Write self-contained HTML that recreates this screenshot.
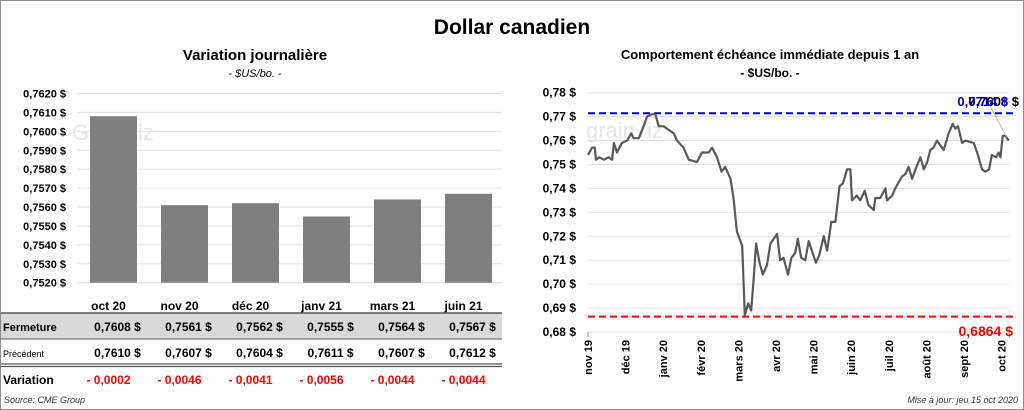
<!DOCTYPE html>
<html><head><meta charset="utf-8"><style>
body{margin:0;background:#fff;}
svg{display:block;font-family:"Liberation Sans",Arial,sans-serif;}
</style></head><body>
<svg id="c" width="1024" height="410" viewBox="0 0 1024 410">
<rect x="0.5" y="0.5" width="1023" height="409" fill="#fff" stroke="#8c8c8c"/>
<text x="512" y="34" text-anchor="middle" font-size="21" font-weight="bold">Dollar canadien</text>
<text x="255" y="60" text-anchor="middle" font-size="15" font-weight="bold">Variation  journalière</text>
<text x="255" y="77" text-anchor="middle" font-size="11" font-style="italic">- $US/bo. -</text>
<text x="770" y="59" text-anchor="middle" font-size="13" font-weight="bold">Comportement échéance immédiate depuis 1 an</text>
<text x="770" y="77" text-anchor="middle" font-size="12" font-weight="bold">- $US/bo. -</text>
<g id="left"></g><g id="right"></g>
<text x="4" y="403" font-size="9" font-style="italic" fill="#333">Source: CME Group</text>
<text x="1018" y="403" text-anchor="end" font-size="9" font-style="italic" fill="#333">Mise à jour: jeu 15 oct 2020</text>
</svg>
<script>
const categories=["oct 20","nov 20","déc 20","janv 21","mars 21","juin 21"];
const closeVals=[0.7608,0.7561,0.7562,0.7555,0.7564,0.7567];
const prevVals=[0.7610,0.7607,0.7604,0.7611,0.7607,0.7612];
const variationVals=[-0.0002,-0.0046,-0.0041,-0.0056,-0.0044,-0.0044];
const barTicks=[0.7520,0.7530,0.7540,0.7550,0.7560,0.7570,0.7580,0.7590,0.7600,0.7610,0.7620];
const lineMonths=[0.00,0.11,0.18,0.21,0.30,0.42,0.55,0.64,0.69,0.77,0.90,1.04,1.15,1.21,1.35,1.48,1.57,1.70,1.79,1.88,2.01,2.28,2.37,2.54,2.68,2.90,3.03,3.21,3.30,3.43,3.55,3.65,3.79,3.87,3.96,4.10,4.17,4.26,4.34,4.41,4.47,4.56,4.65,4.76,4.85,5.03,5.11,5.20,5.32,5.41,5.51,5.58,5.67,5.78,5.87,6.06,6.15,6.27,6.36,6.47,6.58,6.69,6.78,6.89,6.98,7.02,7.15,7.24,7.36,7.46,7.60,7.64,7.77,7.91,7.95,8.09,8.17,8.35,8.44,8.53,8.62,8.71,8.84,8.93,9.02,9.10,9.19,9.28,9.37,9.46,9.59,9.70,9.77,9.84,9.95,10.03,10.26,10.37,10.48,10.57,10.67,10.74,10.85,10.92,10.97,11.03,11.10,11.19];
const lineVals=[0.754,0.757,0.757,0.752,0.753,0.752,0.753,0.752,0.759,0.755,0.759,0.760,0.763,0.761,0.761,0.766,0.770,0.771,0.771,0.766,0.766,0.763,0.760,0.757,0.752,0.751,0.755,0.755,0.757,0.753,0.747,0.749,0.744,0.736,0.722,0.716,0.687,0.692,0.689,0.703,0.717,0.709,0.704,0.708,0.717,0.721,0.710,0.711,0.704,0.711,0.713,0.719,0.711,0.710,0.718,0.709,0.712,0.720,0.714,0.726,0.726,0.741,0.742,0.748,0.748,0.735,0.737,0.735,0.739,0.733,0.731,0.736,0.736,0.740,0.735,0.737,0.740,0.745,0.746,0.749,0.744,0.748,0.753,0.748,0.751,0.756,0.757,0.760,0.758,0.756,0.763,0.767,0.765,0.766,0.759,0.760,0.759,0.754,0.748,0.747,0.748,0.754,0.753,0.755,0.753,0.762,0.762,0.760];
const monthLabels=["nov 19","déc 19","janv 20","févr 20","mars 20","avr 20","mai 20","juin 20","juil 20","août 20","sept 20","oct 20"];
const lineTicks=[0.68,0.69,0.70,0.71,0.72,0.73,0.74,0.75,0.76,0.77,0.78];
const highVal=0.7714, lowVal=0.6864, lastVal=0.7608;

const NS="http://www.w3.org/2000/svg";
function mk(parent,tag,attrs,txt){const e=document.createElementNS(NS,tag);for(const k in attrs)e.setAttribute(k,attrs[k]);if(txt!==undefined)e.textContent=txt;parent.appendChild(e);return e;}
const fmt4=v=>v.toFixed(4).replace('.',',');
const fmt2=v=>v.toFixed(2).replace('.',',');

// LEFT BAR CHART
const L=document.getElementById('left');
const bg=mk(L,'rect',{x:1,y:313,width:501,height:26,fill:'#d9d9d9'});


const by0=282.7,by1=93.5,bmin=0.7520,bmax=0.7620;
const yB=v=>by0-(v-bmin)/(bmax-bmin)*(by0-by1);
const bx0=77,bw=71;
const xB=i=>bx0+bw*(i+0.5)+1;
barTicks.forEach(t=>{
 const g=mk(L,'line',{x1:77,x2:502,y1:yB(t),y2:yB(t),stroke:'#e0e0e0','stroke-width':1});
 
 
 const tx=mk(L,'text',{x:66,y:yB(t)+4,'text-anchor':'end','font-size':11,'font-weight':'bold'},fmt4(t)+' $');
 
 
});
const wm=mk(L,'text',{x:72,y:140,'font-size':22,fill:'#e6e6e6'},'Grain√iz');


categories.forEach((c,i)=>{
 const r=mk(L,'rect',{x:xB(i)-23.5,y:yB(closeVals[i]),width:47,height:by0-yB(closeVals[i]),fill:'#7f7f7f'});
 
 
 const t=mk(L,'text',{x:xB(i)-5,y:310,'text-anchor':'middle','font-size':12,'font-weight':'bold'},c);
 
 
 const f=mk(L,'text',{x:xB(i)+4,y:331,'text-anchor':'middle','font-size':12,'font-weight':'bold'},fmt4(closeVals[i])+'  $');
 
 
 const p=mk(L,'text',{x:xB(i)+4,y:357,'text-anchor':'middle','font-size':12,'font-weight':'bold'},fmt4(prevVals[i])+'  $');
 
 
 const v=mk(L,'text',{x:xB(i)-5,y:384,'text-anchor':'middle','font-size':12,'font-weight':'bold',fill:'#ff0000'},'- '+fmt4(Math.abs(variationVals[i])));
 
 
});
mk(L,'line',{x1:1,x2:502,y1:313,y2:313,stroke:'#555','stroke-width':1.5});
mk(L,'line',{x1:1,x2:502,y1:339,y2:339,stroke:'#555','stroke-width':1});
mk(L,'line',{x1:1,x2:502,y1:364,y2:364,stroke:'#555','stroke-width':1.3});
mk(L,'line',{x1:1,x2:502,y1:366.5,y2:366.5,stroke:'#555','stroke-width':1.3});
[['Fermeture',331,11,'bold'],['Précédent',357,9,'normal'],['Variation',384,12,'bold']].forEach(r=>{
 const t=mk(L,'text',{x:3,y:r[1],'font-size':r[2],'font-weight':r[3]},r[0]);
 
 
});

// RIGHT LINE CHART
const R=document.getElementById('right');
const ry0=332,ry1=92.7,rmin=0.68,rmax=0.78;
const yR=v=>ry0-(v-rmin)/(rmax-rmin)*(ry0-ry1);
const xR=m=>588+m*37.6;
lineTicks.forEach(t=>{
 const g=mk(R,'line',{x1:588,x2:1009,y1:yR(t),y2:yR(t),stroke:'#e0e0e0','stroke-width':1});
 
 
 const tx=mk(R,'text',{x:576,y:yR(t)+4,'text-anchor':'end','font-size':12,'font-weight':'bold'},fmt2(t)+' $');
 
 
});
const wm2=mk(R,'text',{x:586,y:138,'font-size':22,fill:'#e6e6e6'},'grain√iz');


mk(R,'line',{x1:588,x2:588,y1:332,y2:337,stroke:'#999'});
monthLabels.forEach((m,i)=>{
 const t=mk(R,'text',{transform:`translate(${xR(i)+4},${340}) rotate(-90)`,'text-anchor':'end','font-size':11,'font-weight':'bold'},m);
 
 
});
const hl=mk(R,'line',{x1:588,x2:1013,y1:yR(highVal),y2:yR(highVal),stroke:'#0000cc','stroke-width':2,'stroke-dasharray':'7,4'});


const ll=mk(R,'line',{x1:588,x2:1013,y1:yR(lowVal),y2:yR(lowVal),stroke:'#ff0000','stroke-width':2,'stroke-dasharray':'7,4'});


const pts=lineMonths.map((m,i)=>xR(m).toFixed(1)+','+yR(lineVals[i]).toFixed(1)).join(' ');
const pl=mk(R,'polyline',{points:pts,fill:'none',stroke:'#595959','stroke-width':2.2,'stroke-linejoin':'round'});


const n=lineMonths.length-1;
mk(R,'line',{x1:xR(lineMonths[n])-2,y1:yR(lineVals[n])-3,x2:990,y2:106,stroke:'#aaa','stroke-width':0.8});
const lt=mk(R,'text',{x:1019,y:106,'text-anchor':'end','font-size':13,'font-weight':'bold'},fmt4(lastVal)+' $');


const ht=mk(R,'text',{x:1008,y:106,'text-anchor':'end','font-size':13,'font-weight':'bold',fill:'#0000cc'},fmt4(highVal)+' $');


const lo=mk(R,'text',{x:1013,y:336,'text-anchor':'end','font-size':14,'font-weight':'bold',fill:'#ff0000'},fmt4(lowVal)+' $');


</script>
</body></html>
